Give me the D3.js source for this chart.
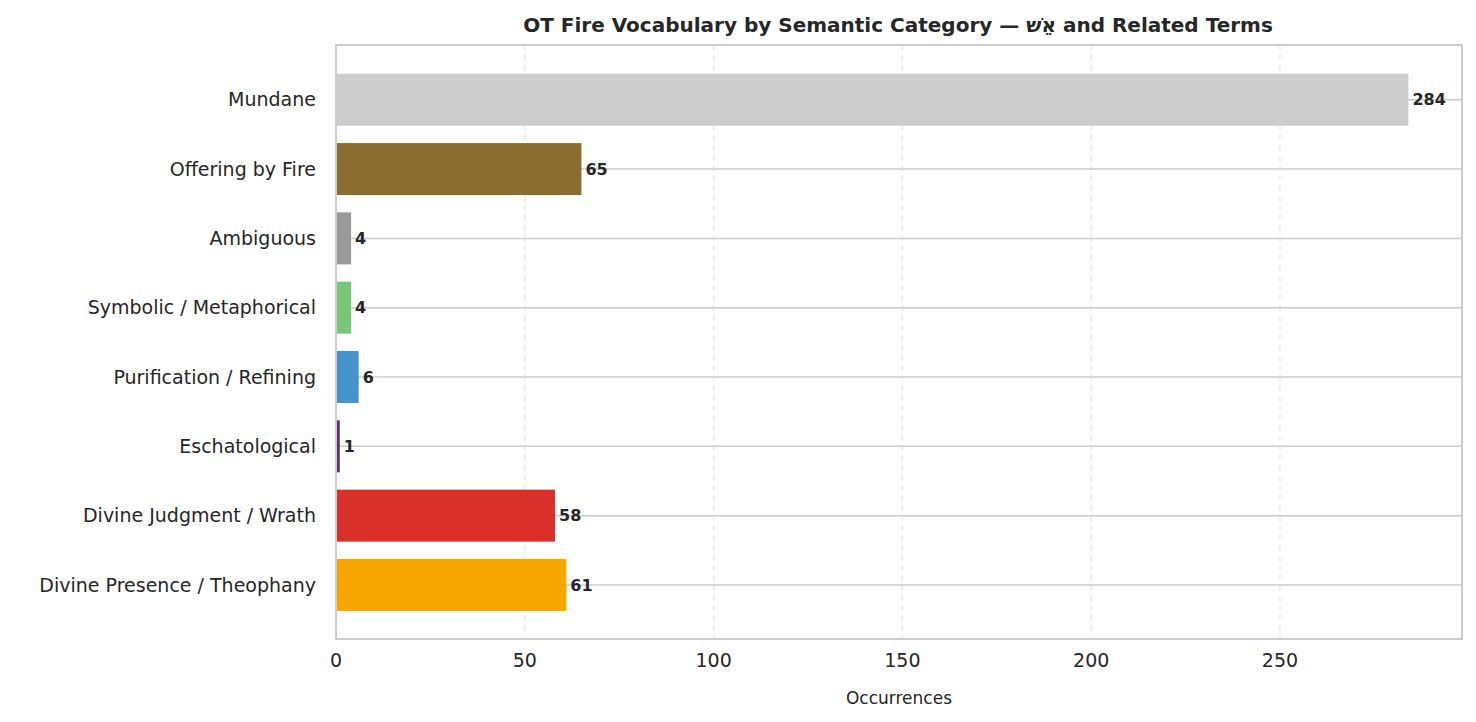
<!DOCTYPE html>
<html><head><meta charset="utf-8">
<script src="https://cdn.jsdelivr.net/npm/d3@7"></script>
<style>body{margin:0;background:#fff;font-family:"DejaVu Sans",Arial,sans-serif}</style>
</head><body><svg id="c" width="1476" height="722"></svg>
<script>
const categories = ["Divine Presence / Theophany","Divine Judgment / Wrath","Eschatological","Purification / Refining","Symbolic / Metaphorical","Ambiguous","Offering by Fire","Mundane"];
const values = [61,58,1,6,4,4,65,284];
const colors = ["#f7a600","#d9302a","#5c3566","#4593c8","#78c679","#999999","#8b6d31","#cccccc"];
const xTicks = [0,50,100,150,200,250];

const svg = d3.select("#c");
const L=336,R=1462,T=45,B=639;
const x = d3.scaleLinear().domain([0,298.2]).range([L,R]);
const y = d3.scaleLinear().domain([-0.78,7.79]).range([B,T]);
const bh = (y(0)-y(0.75));

svg.append("g").selectAll("line").data(xTicks.slice(1)).join("line")
 .attr("x1",d=>x(d)).attr("x2",d=>x(d)).attr("y1",T).attr("y2",B)
 .attr("stroke","#e6e6e6").attr("stroke-width",1.3).attr("stroke-dasharray","6,4");
svg.append("g").selectAll("line").data(categories).join("line")
 .attr("x1",L).attr("x2",R).attr("y1",(d,i)=>y(i)).attr("y2",(d,i)=>y(i))
 .attr("stroke","#cccccc").attr("stroke-width",1.5);
svg.append("g").selectAll("rect").data(values).join("rect")
 .attr("x",x(0)).attr("width",d=>x(d)-x(0))
 .attr("y",(d,i)=>y(i)-bh/2).attr("height",bh)
 .attr("fill",(d,i)=>colors[i]);
svg.append("g").selectAll("text").data(values).join("text")
 .attr("x",d=>x(d)+4).attr("y",(d,i)=>y(i)).attr("dy","0.35em")
 .attr("font-size",16).attr("font-weight","bold").attr("fill","#262626").text(d=>d);
svg.append("rect").attr("x",L).attr("y",T).attr("width",R-L).attr("height",B-T)
 .attr("fill","none").attr("stroke","#cccccc").attr("stroke-width",2);
svg.append("g").selectAll("text").data(categories).join("text")
 .attr("x",L-20).attr("y",(d,i)=>y(i)).attr("dy","0.35em").attr("text-anchor","end")
 .attr("font-size",19).attr("fill","#262626").text(d=>d);
svg.append("g").selectAll("text").data(xTicks).join("text")
 .attr("x",d=>x(d)).attr("y",B+28).attr("text-anchor","middle")
 .attr("font-size",19).attr("fill","#262626").text(d=>d);
svg.append("text").attr("x",(L+R)/2).attr("y",704).attr("text-anchor","middle")
 .attr("font-size",17).attr("fill","#262626").text("Occurrences");
svg.append("text").attr("x",(L+R)/2-1).attr("y",32).attr("text-anchor","middle")
 .attr("font-size",20).attr("font-weight","bold").attr("fill","#262626")
 .text("OT Fire Vocabulary by Semantic Category — אֵשׁ and Related Terms");
</script></body></html>
